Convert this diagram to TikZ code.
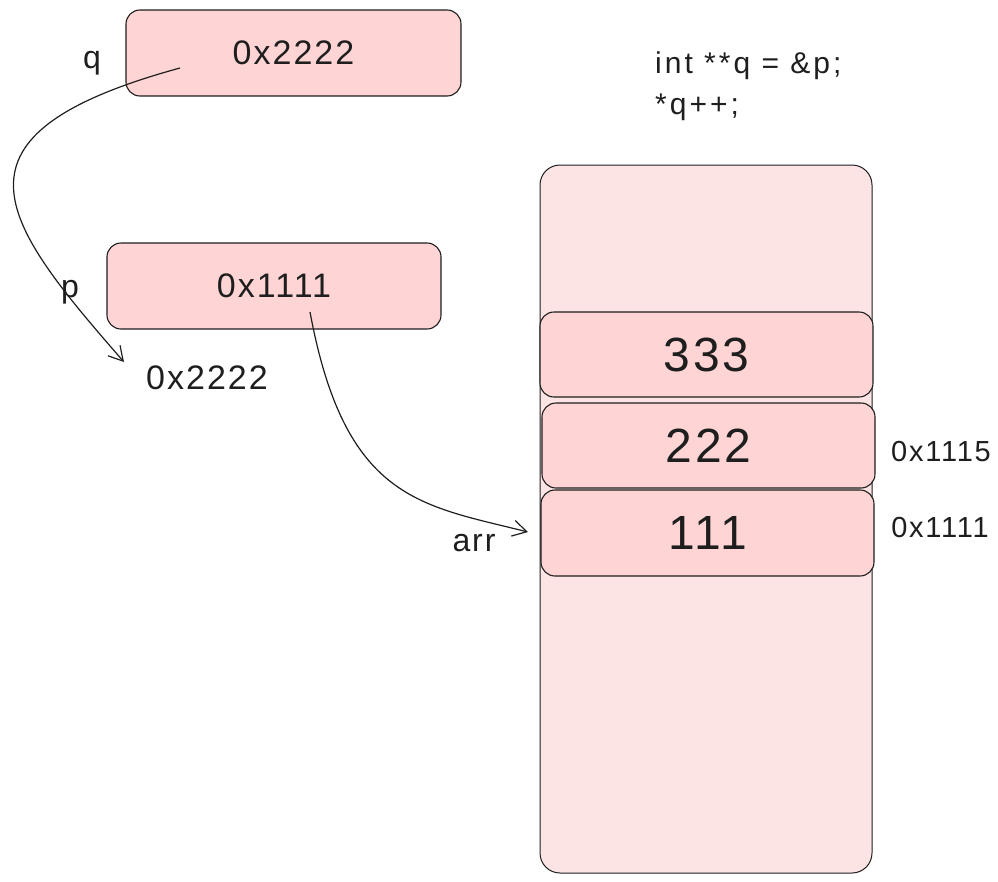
\documentclass[tikz,border=0pt]{standalone}
\usepackage{fontspec}
\setmainfont{Liberation Sans}
\newfontfamily\hand[LetterSpace=6]{Liberation Sans}
\newfontfamily\handcode[LetterSpace=10]{Liberation Sans}
\usetikzlibrary{arrows.meta}
\definecolor{boxfill}{RGB}{255,212,212}
\definecolor{colfill}{RGB}{253,228,228}
\definecolor{ink}{RGB}{30,30,30}
\tikzset{
  membox/.style={draw=ink, line width=1.1pt, fill=boxfill, rounded corners=14pt, inner sep=0pt, text=ink, font=\hand\fontsize{34}{40}\selectfont},
  bigbox/.style={membox, font=\hand\fontsize{48}{54}\selectfont},
  colbox/.style={draw=ink, line width=1pt, fill=colfill, rounded corners=20pt, inner sep=0pt},
  lbl/.style={inner sep=0pt, text=ink, font=\hand\fontsize{32}{38}\selectfont},
  codelbl/.style={inner sep=0pt, text=ink, anchor=base west, font=\handcode\fontsize{30}{36}\selectfont},
  ptr/.style={draw=ink, line width=1.2pt, -{Straight Barb[length=14pt,width=16pt,line width=1.2pt]}},
}
\begin{document}
\begin{tikzpicture}[x=1pt,y=-1pt]
\useasboundingbox (0,0) rectangle (998,881);
% left boxes
\node[membox, minimum width=335pt, minimum height=86pt] (qbox) at (293.5,53) {0x2222};
\node[membox, minimum width=334pt, minimum height=86pt] (pbox) at (274,286) {0x1111};
\node[lbl] (qlbl) at (92,63) {q};
\node[lbl] (plbl) at (70,292) {p};
\node[lbl, font=\hand\fontsize{34}{40}\selectfont] (paddr) at (207,378) {0x2222};
% column
\node[colbox, minimum width=332pt, minimum height=708pt] (col) at (706,519) {};
\node[bigbox, minimum width=333pt, minimum height=85pt] (b333) at (706.5,354.5) {333};
\node[bigbox, minimum width=333pt, minimum height=85pt] (b222) at (708.5,445.5) {222};
\node[bigbox, minimum width=333pt, minimum height=86pt] (b111) at (707.5,533) {111};
\node[lbl, font=\hand\fontsize{29}{34}\selectfont] (a1115) at (941,452) {0x1115};
\node[lbl, font=\hand\fontsize{29}{34}\selectfont] (a1111) at (940,528) {0x1111};
\node[lbl] (arrlbl) at (474,543) {arr};
% code
\node[codelbl] (code1) at (655,73) {int **q = \&p;};
\node[codelbl] (code2) at (655,114) {*q++;};
% connectors
\coordinate (qstart) at (180,68);
\coordinate (qend) at (124,362);
\coordinate (pstart) at (310,312);
\coordinate (pend) at (528,532);
\draw[ptr] (qstart) .. controls (-65,135) and (0,220) .. (qend);
\draw[ptr] (pstart) .. controls (345,500) and (420,505) .. (pend);
\end{tikzpicture}
\end{document}
